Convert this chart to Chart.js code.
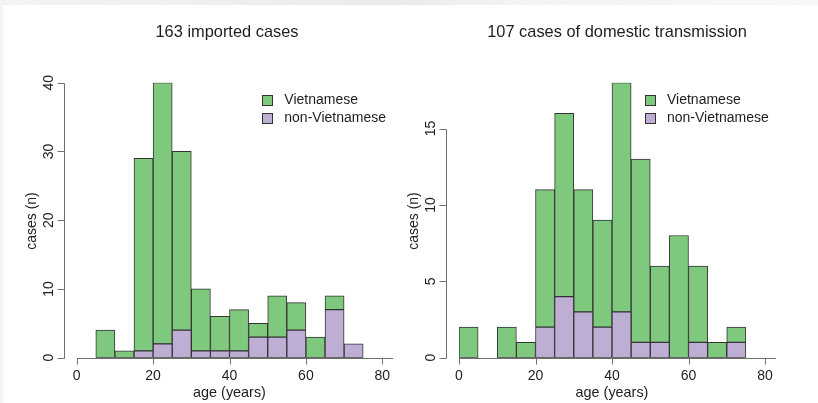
<!DOCTYPE html>
<html>
<head>
<meta charset="utf-8">
<script src="https://cdn.jsdelivr.net/npm/chart.js@4.4.0/dist/chart.umd.min.js"></script>
<style>
  html, body { margin: 0; padding: 0; background: #fff; }
  #wrap { position: relative; width: 818px; height: 403px; overflow: hidden; }
  #frameTop { position: absolute; left: 0; top: 0; width: 818px; height: 5px;
    background: linear-gradient(to right, #f3f3f3, #ebebeb 50%, #f2f2f2 60%, #f8f8f8); }
  #frameLeft { position: absolute; left: 0; top: 0; width: 3px; height: 403px; background: #f4f4f4; }
  .panel { position: absolute; top: 0; }
  #left { left: 0; }
  #right { left: 400px; }
</style>
</head>
<body>
<div id="wrap">
  <div id="frameTop"></div>
  <div id="frameLeft"></div>
  <div class="panel" id="left"><canvas id="importedChart" width="400" height="403"></canvas></div>
  <div class="panel" id="right"><canvas id="domesticChart" width="418" height="403"></canvas></div>
</div>
<script>
// Age bins (5-year wide), lower edges
const binStarts = [0, 5, 10, 15, 20, 25, 30, 35, 40, 45, 50, 55, 60, 65, 70, 75];
const binWidth = 5;

// Imported cases per age bin
const importedVietnamese = [0, 4, 1, 28, 38, 26, 9, 5, 6, 2, 6, 4, 3, 2, 0, 0];
const importedOther      = [0, 0, 0, 1, 2, 4, 1, 1, 1, 3, 3, 4, 0, 7, 2, 0];

// Domestic transmission cases per age bin
const domesticVietnamese = [2, 0, 2, 1, 9, 12, 8, 7, 15, 12, 5, 8, 5, 1, 1, 0];
const domesticOther      = [0, 0, 0, 0, 2, 4, 3, 2, 3, 1, 1, 0, 1, 0, 1, 0];

// Axis ticks
const ageTicks = [0, 20, 40, 60, 80];
const importedCountTicks = [0, 10, 20, 30, 40];
const domesticCountTicks = [0, 5, 10, 15];

const FONT = '"Liberation Sans", Arial, Helvetica, sans-serif';
const GREEN = '#7fc97f';
const PURPLE = '#beaed4';
const EDGE = '#333333';
const AXIS = '#707070';
const INK = '#1e1e1e';

function toPoints(counts) {
  return binStarts.map((s, i) => ({ x: s + binWidth / 2, y: counts[i] }));
}

// R-style axes, titles and legend drawn on top of the bars
const rStyle = {
  id: 'rStyle',
  afterDraw(chart, args, opts) {
    const ctx = chart.ctx;
    const xs = chart.scales.x;
    const ys = chart.scales.y;
    const area = chart.chartArea;
    const y0 = Math.round(ys.getPixelForValue(0)) + 0.5;

    ctx.save();
    ctx.strokeStyle = AXIS;
    ctx.lineWidth = 1;

    // baseline with ticks hanging below
    const xFirst = xs.getPixelForValue(opts.xTicks[0]);
    const xLast = xs.getPixelForValue(opts.xTicks[opts.xTicks.length - 1]);
    ctx.beginPath();
    ctx.moveTo(xFirst, y0);
    ctx.lineTo(xLast + 11, y0);
    opts.xTicks.forEach(v => {
      const px = Math.round(xs.getPixelForValue(v)) + 0.5;
      ctx.moveTo(px, y0);
      ctx.lineTo(px, y0 + 6);
    });
    ctx.stroke();

    // y axis line only up to last tick
    const ax = Math.round(area.left - 13) + 0.5;
    const yTop = ys.getPixelForValue(opts.yTicks[opts.yTicks.length - 1]);
    ctx.beginPath();
    ctx.moveTo(ax, y0);
    ctx.lineTo(ax, Math.round(yTop) + 0.5);
    opts.yTicks.forEach(v => {
      const py = Math.round(ys.getPixelForValue(v)) + 0.5;
      ctx.moveTo(ax, py);
      ctx.lineTo(ax - 7, py);
    });
    ctx.stroke();

    ctx.fillStyle = INK;
    ctx.font = '14px ' + FONT;
    ctx.textAlign = 'center';
    ctx.textBaseline = 'middle';

    opts.xTicks.forEach(v => {
      ctx.fillText(String(v), xs.getPixelForValue(v), y0 + 18);
    });
    ctx.font = '14.4px ' + FONT;
    ctx.fillText(opts.xLabel, (area.left + area.right) / 2, y0 + 35);

    // rotated y tick labels and axis title
    ctx.font = '14px ' + FONT;
    opts.yTicks.forEach(v => {
      ctx.save();
      ctx.translate(area.left - 28, ys.getPixelForValue(v));
      ctx.rotate(-Math.PI / 2);
      ctx.fillText(String(v), 0, 0);
      ctx.restore();
    });
    ctx.save();
    ctx.translate(area.left - 44.5, 221);
    ctx.rotate(-Math.PI / 2);
    ctx.fillText(opts.yLabel, 0, 0);
    ctx.restore();

    // title
    ctx.font = '16.4px ' + FONT;
    ctx.fillText(opts.title, opts.titleX, 32);

    // legend, Vietnamese first
    ctx.font = '14px ' + FONT;
    ctx.textAlign = 'left';
    const items = chart.data.datasets.slice().reverse();
    items.forEach((ds, i) => {
      const cy = 100 + i * 18;
      const bx = Math.round(area.right - 120) + 0.5;
      ctx.fillStyle = ds.backgroundColor;
      ctx.fillRect(bx, Math.round(cy - 5) + 0.5, 10, 10);
      ctx.strokeStyle = EDGE;
      ctx.strokeRect(bx, Math.round(cy - 5) + 0.5, 10, 10);
      ctx.fillStyle = INK;
      ctx.fillText(ds.label, area.right - 98, cy);
    });

    ctx.restore();
  }
};

function makeChart(canvasId, vietnamese, other, yMax, yTicks, title, titleX, pad) {
  const ctx = document.getElementById(canvasId);
  return new Chart(ctx, {
    type: 'bar',
    data: {
      datasets: [
        {
          label: 'non-Vietnamese',
          data: toPoints(other),
          backgroundColor: PURPLE,
          borderColor: EDGE,
          borderWidth: 1,
          borderSkipped: false
        },
        {
          label: 'Vietnamese',
          data: toPoints(vietnamese),
          backgroundColor: GREEN,
          borderColor: EDGE,
          borderWidth: 1,
          borderSkipped: false
        }
      ]
    },
    options: {
      responsive: false,
      animation: false,
      devicePixelRatio: 1,
      barPercentage: 1,
      categoryPercentage: 1,
      layout: { padding: pad },
      scales: {
        x: { type: 'linear', stacked: true, min: 0, max: 80, offset: false, display: false },
        y: { stacked: true, min: 0, max: yMax, display: false }
      },
      plugins: {
        legend: { display: false },
        tooltip: { enabled: false },
        rStyle: {
          xTicks: ageTicks,
          yTicks: yTicks,
          xLabel: 'age (years)',
          yLabel: 'cases (n)',
          title: title,
          titleX: titleX
        }
      }
    },
    plugins: [rStyle]
  });
}

makeChart('importedChart', importedVietnamese, importedOther, 40, importedCountTicks,
  '163 imported cases', 227, { left: 76.7, right: 17.7, top: 82.7, bottom: 45.3 });

makeChart('domesticChart', domesticVietnamese, domesticOther, 18, domesticCountTicks,
  '107 cases of domestic transmission', 217, { left: 59, right: 53, top: 82.7, bottom: 45.3 });
</script>
</body>
</html>
